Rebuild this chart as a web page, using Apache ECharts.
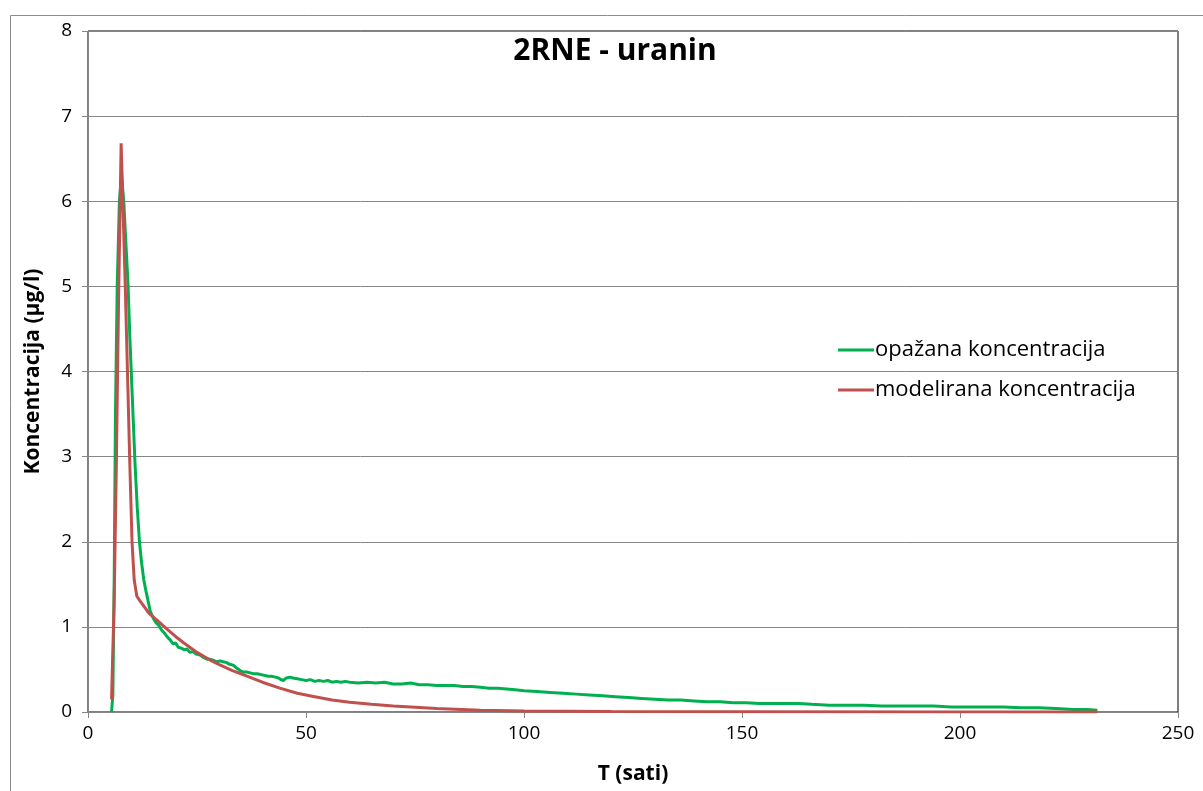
<!DOCTYPE html>
<html>
<head>
<meta charset="utf-8">
<script src="https://cdn.jsdelivr.net/npm/echarts@6/dist/echarts.min.js"></script>
<style>html,body{margin:0;padding:0;background:#fff;}#c{width:1203px;height:791px;}</style>
</head>
<body>
<div id="c"></div>
<script>
const titleText = '2RNE - uranin';
const xName = 'T (sati)';
const yName = 'Koncentracija (µg/l)';
const seriesNames = ['opažana koncentracija', 'modelirana koncentracija'];
const xTicks = [0, 50, 100, 150, 200, 250];
const yTicks = [0, 1, 2, 3, 4, 5, 6, 7, 8];

const observed = [
[5.4,0],[5.7,0.2],[6.0,1.5],[6.3,3.5],[6.7,5.0],[7.2,6.0],[7.7,6.3],[8.2,6.0],[8.7,5.5],[9.2,5.0],
[9.6,4.4],[10.0,3.9],[10.4,3.4],[10.8,2.9],[11.3,2.4],[11.8,2.0],[12.3,1.75],[12.8,1.55],[13.3,1.42],[13.8,1.3],
[14.3,1.18],[15,1.1],[15.6,1.05],[16.2,1.02],[16.9,0.96],[17.5,0.93],[18.2,0.88],[18.8,0.85],[19.5,0.80],[20.1,0.81],
[20.7,0.76],[21.4,0.75],[22.1,0.73],[22.7,0.74],[23.4,0.70],[24.1,0.71],[24.8,0.68],[25.7,0.67],[26.5,0.64],[27.3,0.62],
[28.0,0.62],[28.7,0.61],[29.5,0.59],[30.3,0.60],[31.0,0.59],[31.8,0.58],[32.5,0.56],[33.3,0.55],[34.0,0.52],[34.8,0.49],
[35.6,0.47],[36.4,0.47],[37.2,0.46],[38.0,0.45],[38.8,0.45],[39.6,0.44],[40.5,0.43],[41.3,0.42],[42.1,0.42],[43.0,0.41],
[43.7,0.40],[44.3,0.38],[44.8,0.37],[45.5,0.40],[46.3,0.41],[47.0,0.40],[48,0.39],[49,0.38],[50,0.37],[51,0.38],
[52,0.36],[53,0.37],[54,0.36],[55,0.37],[56,0.35],[57,0.36],[58,0.35],[59,0.36],[60,0.35],[62,0.34],
[64,0.35],[66,0.34],[68,0.35],[70,0.33],[72,0.33],[74,0.34],[76,0.32],[78,0.32],[80,0.31],[82,0.31],
[84,0.31],[86,0.30],[88,0.30],[90,0.29],[92,0.28],[94,0.28],[96,0.27],[98,0.26],[100,0.25],[103,0.24],
[106,0.23],[109,0.22],[112,0.21],[115,0.20],[118,0.19],[121,0.18],[124,0.17],[127,0.16],[130,0.15],[133,0.14],
[136,0.14],[139,0.13],[142,0.12],[145,0.12],[148,0.11],[151,0.11],[154,0.10],[157,0.10],[160,0.10],[163,0.10],
[166,0.09],[170,0.08],[174,0.08],[178,0.08],[182,0.07],[186,0.07],[190,0.07],[194,0.07],[198,0.06],[202,0.06],
[206,0.06],[210,0.06],[214,0.05],[218,0.05],[222,0.04],[226,0.03],[229,0.03],[231.5,0.02]
];

const modelled = [
[5.4,0.15],[6.0,1.3],[6.5,2.9],[7.0,4.8],[7.6,6.68],[8.1,5.8],[8.6,4.9],[9.1,3.9],[9.6,2.9],[10.1,2.0],
[10.6,1.55],[11.2,1.36],[12,1.3],[14,1.16],[16,1.07],[18,0.98],[20,0.89],[22,0.81],[25,0.70],[28,0.61],
[30,0.56],[33,0.49],[36,0.43],[40,0.35],[44,0.28],[48,0.22],[52,0.18],[56,0.14],[60,0.115],[65,0.09],
[70,0.07],[75,0.055],[80,0.04],[90,0.02],[100,0.012],[120,0.006],[150,0.003],[200,0.001],[231.5,0.001]
];

const FONT = '"Open Sans", Lato, sans-serif';
const chart = echarts.init(document.getElementById('c'), null, {renderer: 'canvas'});
chart.setOption({
  animation: false,
  backgroundColor: '#fff',
  graphic: [{
    type: 'rect', left: 8, top: 13, shape: {width: 1300, height: 900},
    style: {fill: 'none', stroke: '#8c8c8c', lineWidth: 1}, silent: true, z: -10
  }],
  title: {
    text: titleText, left: 610, top: 31, textAlign: 'center',
    textStyle: {fontFamily: FONT, fontSize: 30, fontWeight: 'bold', color: '#000'}
  },
  legend: {
    orient: 'vertical', left: 833, top: 334, itemGap: 18, itemWidth: 36, itemHeight: 3,
    icon: 'rect',
    textStyle: {fontFamily: FONT, fontSize: 22, color: '#000', padding: [0,0,0,-4]},
    data: seriesNames
  },
  grid: {left: 88, right: 25, top: 31, bottom: 79, show: true, borderColor: '#000', borderWidth: 1, containLabel: false},
  xAxis: {
    type: 'value', min: 0, max: 250, interval: 50,
    name: xName, nameLocation: 'middle', nameGap: 52,
    nameTextStyle: {fontFamily: FONT, fontSize: 21, fontWeight: 'bold', color: '#000'},
    axisLine: {show: true, lineStyle: {color: '#868686', width: 1}},
    axisTick: {show: true, length: 6, lineStyle: {color: '#868686'}},
    axisLabel: {fontFamily: FONT, fontSize: 19, color: '#000', margin: 12,
      formatter: v => xTicks.includes(v) ? String(v) : ''},
    splitLine: {show: false}
  },
  yAxis: {
    type: 'value', min: 0, max: 8, interval: 1,
    name: yName, nameLocation: 'middle', nameGap: 44,
    nameTextStyle: {fontFamily: FONT, fontSize: 21, fontWeight: 'bold', color: '#000'},
    axisLine: {show: true, lineStyle: {color: '#868686', width: 1}},
    axisTick: {show: true, length: 6, lineStyle: {color: '#868686'}},
    axisLabel: {fontFamily: FONT, fontSize: 19, color: '#000', margin: 16,
      formatter: v => yTicks.includes(v) ? String(v) : ''},
    splitLine: {show: true, lineStyle: {color: '#868686', width: 1}}
  },
  series: [
    {name: seriesNames[0], type: 'line', data: observed, showSymbol: false, symbol: 'none',
     lineStyle: {color: '#00B050', width: 3}, itemStyle: {color: '#00B050'}, z: 2},
    {name: seriesNames[1], type: 'line', data: modelled, showSymbol: false, symbol: 'none',
     lineStyle: {color: '#C0504D', width: 3}, itemStyle: {color: '#C0504D'}, z: 3}
  ]
});
</script>
</body>
</html>
